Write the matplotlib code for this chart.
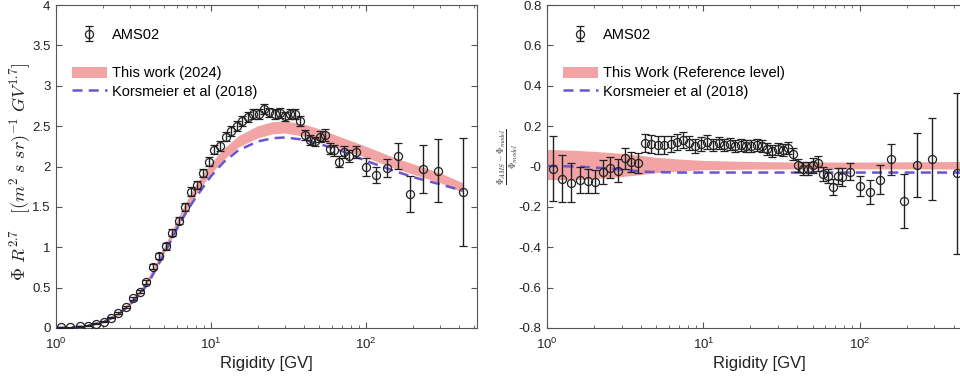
import numpy as np
import matplotlib
matplotlib.use("Agg")
import matplotlib.pyplot as plt
from matplotlib.patches import Patch
from matplotlib.lines import Line2D
from matplotlib.ticker import FixedLocator, FuncFormatter, LogLocator

plt.rcParams['font.family'] = ['Liberation Sans', 'DejaVu Sans']
plt.rcParams['mathtext.fontset'] = 'cm'
plt.rcParams['axes.unicode_minus'] = False

# ---------------- data ----------------
rigidity = [1.08, 1.24, 1.42, 1.61, 1.81, 2.03, 2.27, 2.53, 2.82, 3.13,
            3.46, 3.83, 4.22, 4.65, 5.12, 5.63, 6.18, 6.77, 7.42, 8.11,
            8.86, 9.67, 10.5, 11.5, 12.5, 13.5, 14.7, 15.9, 17.3, 18.7,
            20.3, 21.9, 23.7, 25.7, 27.7, 29.9, 32.3, 34.8, 37.5, 40.4,
            43.5, 46.8, 50.3, 54.1, 58.2, 62.5, 67.2, 72.3, 77.6, 86.5,
            100, 116, 136, 160, 192, 234, 292, 420]

flux = [0.01, 0.01, 0.02, 0.03, 0.05, 0.08, 0.13, 0.19, 0.26, 0.37,
        0.45, 0.57, 0.76, 0.89, 1.01, 1.18, 1.33, 1.50, 1.69, 1.77,
        1.92, 2.06, 2.21, 2.25, 2.37, 2.44, 2.50, 2.56, 2.61, 2.65,
        2.65, 2.71, 2.67, 2.65, 2.66, 2.62, 2.65, 2.65, 2.56, 2.39,
        2.33, 2.31, 2.37, 2.39, 2.22, 2.20, 2.06, 2.18, 2.13, 2.18,
        1.99, 1.89, 1.98, 2.13, 1.66, 1.97, 1.95, 1.68]

flux_err = [0.005, 0.005, 0.005, 0.005, 0.006, 0.008, 0.01, 0.012, 0.015, 0.018,
            0.02, 0.025, 0.03, 0.035, 0.04, 0.04, 0.045, 0.05, 0.05, 0.05,
            0.055, 0.055, 0.06, 0.06, 0.06, 0.06, 0.06, 0.06, 0.06, 0.06,
            0.06, 0.06, 0.06, 0.06, 0.06, 0.06, 0.06, 0.06, 0.06, 0.06,
            0.06, 0.06, 0.07, 0.07, 0.07, 0.07, 0.07, 0.08, 0.08, 0.08,
            0.11, 0.10, 0.11, 0.16, 0.22, 0.30, 0.39, 0.67]

ratio = [-0.01, -0.06, -0.08, -0.065, -0.07, -0.075, -0.026, -0.005, -0.02, 0.04,
         0.024, 0.016, 0.118, 0.11, 0.105, 0.105, 0.11, 0.12, 0.13, 0.115,
         0.10, 0.11, 0.12, 0.105, 0.115, 0.105, 0.11, 0.10, 0.105, 0.10,
         0.10, 0.105, 0.10, 0.085, 0.075, 0.085, 0.08, 0.09, 0.06, 0.005,
         -0.01, -0.01, 0.005, 0.015, -0.035, -0.045, -0.10, -0.045, -0.05, -0.025,
         -0.095, -0.128, -0.065, 0.036, -0.17, 0.007, 0.037, -0.034]

ratio_err = [0.16, 0.115, 0.095, 0.064, 0.06, 0.057, 0.06, 0.05, 0.055, 0.05,
             0.05, 0.05, 0.045, 0.045, 0.045, 0.045, 0.04, 0.04, 0.04, 0.035,
             0.035, 0.035, 0.035, 0.03, 0.03, 0.03, 0.03, 0.03, 0.03, 0.03,
             0.03, 0.03, 0.03, 0.03, 0.03, 0.03, 0.03, 0.03, 0.03, 0.03,
             0.03, 0.03, 0.035, 0.035, 0.035, 0.035, 0.04, 0.04, 0.045, 0.04,
             0.05, 0.06, 0.07, 0.077, 0.135, 0.157, 0.205, 0.40]

# model curves (left panel)
model_R = [1, 1.2, 1.5, 2, 2.5, 3, 3.5, 4, 5, 6, 7, 8, 10, 12, 15, 20, 25, 30,
           40, 50, 70, 100, 150, 200, 300, 420]
this_work = [0.0, 0.006, 0.022, 0.075, 0.17, 0.31, 0.45, 0.62, 0.97, 1.28, 1.53, 1.72,
             1.98, 2.15, 2.31, 2.43, 2.48, 2.49, 2.45, 2.39, 2.29, 2.18, 2.05, 1.97,
             1.86, 1.74]
this_work_half = [0.01, 0.01, 0.01, 0.015, 0.02, 0.025, 0.03, 0.035, 0.04, 0.05, 0.055,
                  0.06, 0.065, 0.07, 0.07, 0.075, 0.075, 0.075, 0.075, 0.075, 0.07,
                  0.07, 0.065, 0.065, 0.06, 0.06]
korsmeier = [0.0, 0.005, 0.02, 0.07, 0.16, 0.29, 0.42, 0.58, 0.92, 1.22, 1.45, 1.62,
             1.88, 2.05, 2.20, 2.31, 2.35, 2.36, 2.33, 2.28, 2.19, 2.07, 1.95, 1.87,
             1.78, 1.70]

# model curves (right panel, relative)
rel_R = [1, 1.5, 2, 3, 4, 5, 7, 10, 20, 40, 100, 200, 450]
rel_top = [0.085, 0.08, 0.075, 0.065, 0.055, 0.045, 0.037, 0.03, 0.025, 0.022, 0.022,
           0.023, 0.025]
rel_bot = [-0.065, -0.065, -0.06, -0.05, -0.04, -0.03, -0.022, -0.016, -0.013, -0.012,
           -0.012, -0.012, -0.012]
rel_kors = [0.003, 0.0, -0.005, -0.015, -0.025, -0.028, -0.03, -0.03, -0.03, -0.03,
            -0.03, -0.03, -0.03]

# ---------------- styles ----------------
BAND = '#f2a3a3'
DASH = '#6a55d0'
DARK = '#222222'
SPINE = '#555555'

W, H = 960, 381
fig = plt.figure(figsize=(W / 100, H / 100), dpi=100)
ax1 = fig.add_axes([56 / W, 53 / H, 421 / W, 323 / H])
ax2 = fig.add_axes([547.3 / W, 53 / H, 424 / W, 323 / H])


def style(ax):
    ax.set_xscale('log')
    ax.set_xlim(1, 520)
    for s in ax.spines.values():
        s.set_color(SPINE)
        s.set_linewidth(0.8)
    ax.tick_params(which='both', direction='in', top=True, right=True,
                   colors=SPINE, labelcolor=DARK, labelsize=9.5)
    ax.tick_params(which='major', length=4, pad=4)
    ax.tick_params(which='minor', length=2)
    ax.tick_params(axis='x', which='major', pad=6)
    ax.xaxis.set_major_locator(LogLocator(base=10, numticks=10))
    ax.xaxis.set_minor_locator(LogLocator(base=10, subs=np.arange(2, 10), numticks=20))
    ax.set_xlabel('Rigidity [GV]', fontsize=12, color=DARK, labelpad=3)


def eb(ax, y, e):
    return ax.errorbar(rigidity, y, yerr=e, fmt='o', mfc='none', mec=DARK,
                       ecolor=DARK, ms=5.8, mew=0.9, elinewidth=1.0,
                       capsize=3, capthick=1.0, zorder=5)


# left panel
style(ax1)
ax1.fill_between(model_R, np.array(this_work) - np.array(this_work_half),
                 np.array(this_work) + np.array(this_work_half),
                 color=BAND, lw=0, zorder=2)
ax1.plot(model_R, korsmeier, ls=(0, (4, 2.5)), color=DASH, lw=1.8, zorder=3)
h1 = eb(ax1, flux, flux_err)
ax1.set_ylim(0, 4)
ax1.yaxis.set_major_locator(FixedLocator(np.arange(0, 4.01, 0.5)))
ax1.yaxis.set_major_formatter(FuncFormatter(lambda v, p: '%g' % v))

# right panel
style(ax2)
ax2.fill_between(rel_R, rel_bot, rel_top, color=BAND, lw=0, zorder=2)
ax2.plot(rel_R, rel_kors, ls=(0, (4, 2.5)), color=DASH, lw=1.8, zorder=3)
h2 = eb(ax2, ratio, ratio_err)
ax2.set_ylim(-0.8, 0.8)
ax2.yaxis.set_major_locator(FixedLocator(np.round(np.arange(-0.8, 0.81, 0.2), 1)))
ax2.yaxis.set_major_formatter(FuncFormatter(lambda v, p: '%g' % v))

# legends
for ax, h, lab in [(ax1, h1, 'This work (2024)'),
                   (ax2, h2, 'This Work (Reference level)')]:
    la = ax.legend([h], ['AMS02'], loc='upper left', bbox_to_anchor=(0.037, 0.93),
                   frameon=False, fontsize=10.5, handlelength=2.4, handletextpad=0.35,
                   borderpad=0, borderaxespad=0)
    ax.add_artist(la)
    ph = Patch(facecolor=BAND, edgecolor='none')
    lh = Line2D([], [], ls=(0, (4, 2.5)), color=DASH, lw=1.8)
    ax.legend([ph, lh], [lab, 'Korsmeier et al (2018)'], loc='upper left',
              bbox_to_anchor=(0.037, 0.81), frameon=False, fontsize=10.5,
              handlelength=2.4, handleheight=0.85, handletextpad=0.35,
              labelspacing=0.3, borderpad=0, borderaxespad=0)

# y labels
fig.text(20 / W, 1 - 172 / H,
         r'$\Phi\ R^{2.7}\quad[(m^2\ s\ sr)^{-1}\ GV^{1.7}]$',
         rotation=90, ha='center', va='center', fontsize=13, color=DARK)
fig.text(508 / W, 1 - 157 / H,
         r'$\frac{\Phi_{AMS}-\Phi_{model}}{\Phi_{model}}$',
         rotation=90, ha='center', va='center', fontsize=9, color=DARK)

fig.savefig('out.png', dpi=100)
